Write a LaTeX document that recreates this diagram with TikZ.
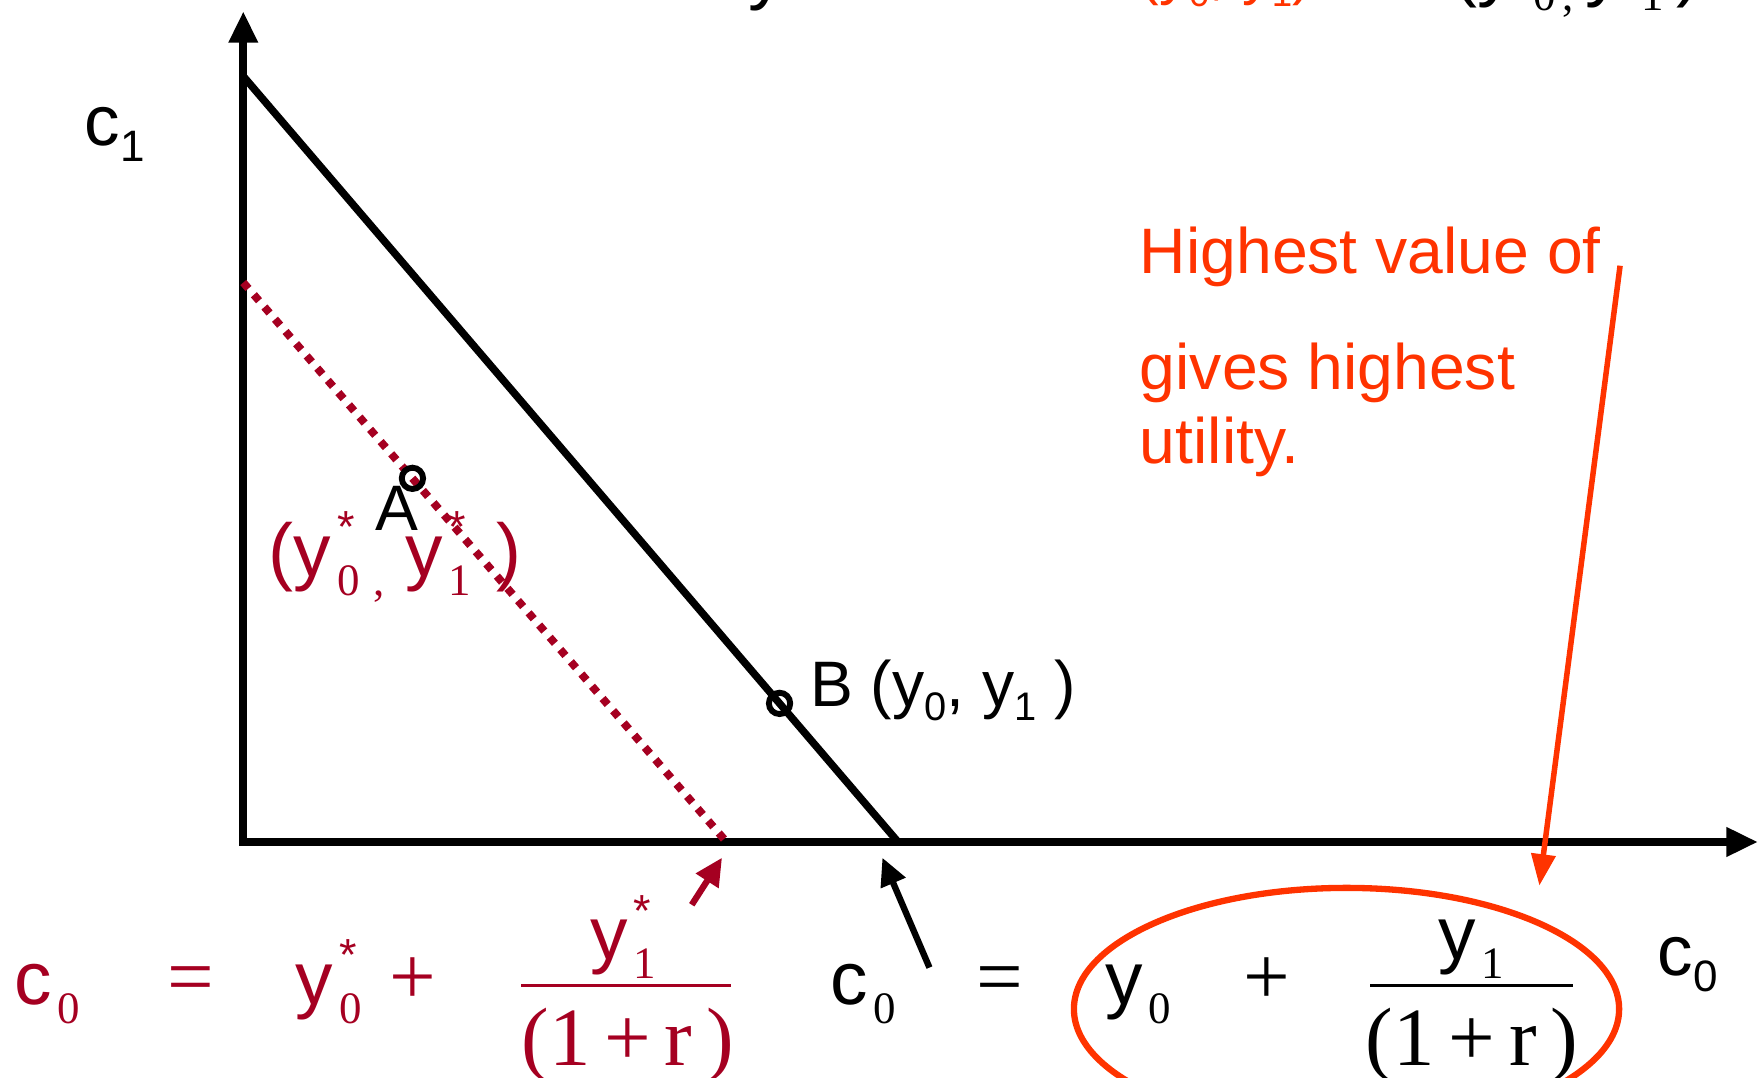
\documentclass[tikz,border=0pt]{standalone}
\usepackage{fontspec}
\setmainfont{Liberation Sans}
\newfontfamily\tms{Liberation Serif}
\usepackage{tikz}
\usetikzlibrary{arrows.meta, positioning, shapes.geometric}
\usepackage{xcolor}

\definecolor{dkred}{HTML}{A50021}
\definecolor{hiorange}{HTML}{FF3300}

% sub- and superscripts as the slide sets them
\newcommand{\tsub}[1]{\kern0.08em\raisebox{-0.25em}{\scalebox{0.6}{\tms #1}}}
\newcommand{\ssub}[1]{\raisebox{-0.22em}{\scalebox{0.62}{#1}}}
\newcommand{\stsub}[1]{\kern0.08em\makebox[0pt][l]{\raisebox{0.45em}{\scalebox{0.6}{*}}}\raisebox{-0.25em}{\scalebox{0.6}{\tms #1}}}

\begin{document}
\begin{tikzpicture}[x=0.01cm, y=-0.01cm,
    axisLine/.style={line width=2.1pt, {Triangle[length=8pt, width=7pt]}-{Triangle[length=8pt, width=7pt]}},
    budgetLine/.style={line width=1.9pt},
    optLine/.style={dkred, line width=2pt, dash pattern=on 2pt off 2.1pt},
    ptMark/.style={circle, draw, line width=1.5pt, inner sep=0pt, minimum size=5.4pt},
    lbl/.style={inner sep=0pt, anchor=base west, font=\fontsize{16.3}{20}\selectfont},
    bigLbl/.style={inner sep=0pt, anchor=base west, font=\fontsize{18}{22}\selectfont},
    eqSans/.style={inner sep=0pt, anchor=base west, font=\fontsize{19}{23}\selectfont},
    eqSerif/.style={inner sep=0pt, anchor=base, font=\tms\fontsize{21}{25}\selectfont},
    fracBar/.style={line width=0.8pt},
    pointArrow/.style={line width=1.6pt, -{Triangle[length=7pt, width=6.5pt]}},
    noteArrow/.style={hiorange, line width=1.4pt, -{Triangle[length=8pt, width=6pt]}}
]
    \useasboundingbox (0,0) rectangle (1568,961);
    \clip (0,0) rectangle (1568,961);

    % Lines cut off at the top edge
    \node[eqSans] (topY) at (667,-4) {y};
    \node[lbl, hiorange, font=\fontsize{15}{18}\selectfont] (topOrange) at (1016,-6) {(y\ssub{0}, y\ssub{1})};
    \node[eqSans] (topBlack) at (1295,-7) {(y\,\tsub{0}\tsub{,}\,y\,\tsub{1}\,)};

    % Axes
    \coordinate (origin) at (217,751);
    \coordinate (yTip) at (217,10);
    \coordinate (xTip) at (1568,751);
    \draw[axisLine] (yTip) -- (origin) -- (xTip);

    % Budget line and the line through the chosen point
    \coordinate (yTop) at (217,68);
    \coordinate (xEnd) at (801,751);
    \draw[budgetLine] (yTop) -- (xEnd) coordinate[pos=0.819] (ptB);
    \coordinate (optTop) at (217,252);
    \coordinate (optEnd) at (648,751);
    \draw[optLine] (optTop) -- (optEnd) coordinate[pos=0.35] (ptA);

    \node[ptMark] (markA) at (ptA) {};
    \node[ptMark] (markB) at (ptB) {};

    % Labels
    \node[bigLbl] (cOne) at (75,130) {c\ssub{1}};
    \node[lbl] (lblA) at (334,473) {A};
    \node[eqSans, dkred] (lblOpt) at (239,514) {(y\stsub{0}\tsub{\,,} y\stsub{1}\,\,)};
    \node[lbl] (lblB) at (722,630) {B (y\ssub{0}, y\ssub{1} )};
    \node[bigLbl] (cZero) at (1478,870) {c\ssub{0}};

    % Note
    \node[lbl, hiorange] (noteA) at (1016,244) {Highest value of};
    \node[lbl, hiorange] (noteB) at (1016,347) {gives highest};
    \node[lbl, hiorange] (noteC) at (1016,413) {utility.};

    % Equation for the new point
    \node[eqSans, dkred] (redC) at (12,896) {c\tsub{0}};
    \node[eqSerif, dkred] (redEq) at (170,896) {=};
    \node[eqSans, dkred] (redY) at (263,896) {y\stsub{0}};
    \node[eqSerif, dkred] (redPlus) at (368,896) {+};
    \coordinate (redBarL) at (465,879);
    \coordinate (redBarR) at (652,879);
    \draw[fracBar, dkred] (redBarL) -- (redBarR);
    \node[eqSans, dkred, anchor=base] (redNum) at (556,856) {y\stsub{1}};
    \node[eqSerif, dkred] (redDen) at (560,950) {(1\,+\,r\,)};

    % Equation for the endowment
    \node[hiorange, draw, ellipse, line width=1.6pt, minimum width=4.86cm, minimum height=2.16cm] (hiOval) at (1201,900) {};
    \node[eqSans] (blkC) at (740,896) {c\tsub{0}};
    \node[eqSerif] (blkEq) at (892,896) {=};
    \node[eqSans] (blkY) at (985,896) {y\tsub{0}};
    \node[eqSerif] (blkPlus) at (1130,896) {+};
    \coordinate (blkBarL) at (1222,879);
    \coordinate (blkBarR) at (1403,879);
    \draw[fracBar] (blkBarL) -- (blkBarR);
    \node[eqSans, anchor=base] (blkNum) at (1312,856) {y\tsub{1}};
    \node[eqSerif] (blkDen) at (1313,950) {(1\,+\,r\,)};

    % Pointers
    \coordinate (redTail) at (617,807);
    \coordinate (redTip) at (644,765);
    \draw[pointArrow, dkred] (redTail) -- (redTip);
    \coordinate (blkTail) at (829,863);
    \coordinate (blkTip) at (787,765);
    \draw[pointArrow] (blkTail) -- (blkTip);
    \coordinate (noteTail) at (1445,237);
    \coordinate (noteTip) at (1373,790);
    \draw[noteArrow] (noteTail) -- (noteTip);
\end{tikzpicture}
\end{document}
